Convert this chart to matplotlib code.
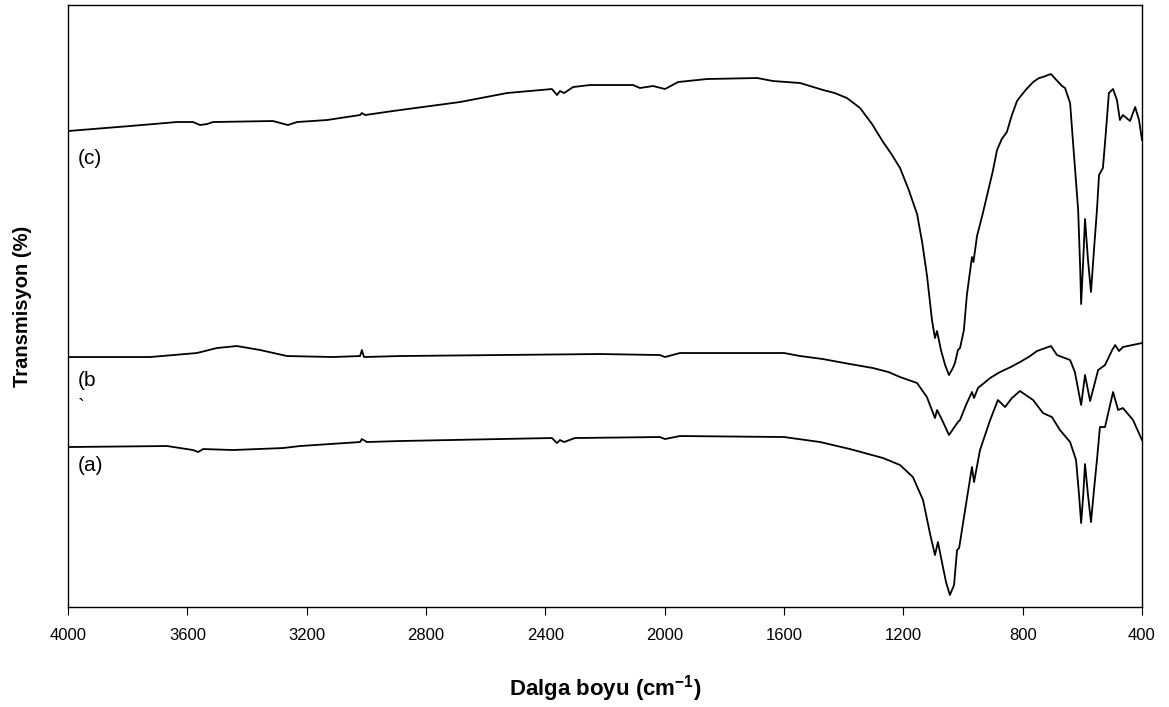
import matplotlib
matplotlib.use("Agg")
import matplotlib.pyplot as plt
import numpy as np

plt.rcParams['font.family'] = ['Liberation Sans', 'DejaVu Sans']
plt.rcParams['mathtext.fontset'] = 'custom'
plt.rcParams['mathtext.bf'] = 'Liberation Sans:bold'
plt.rcParams['mathtext.rm'] = 'Liberation Sans'

# wavenumber (cm-1) and offset transmission (arbitrary units)
wn_c = [4000, 3792, 3635, 3581, 3558, 3534, 3514, 3313, 3263, 3232, 3132, 3021, 3015, 3004,
        2911, 2686, 2528, 2378, 2361, 2351, 2337, 2307, 2250, 2106, 2083, 2039, 1999, 1955,
        1858, 1690, 1637, 1546, 1469, 1430, 1389, 1345, 1305, 1268, 1240, 1211, 1183, 1154,
        1137, 1121, 1104, 1094, 1087, 1074, 1060, 1047, 1034, 1027, 1017, 1010, 997, 987,
        970, 965, 953, 935, 919, 900, 886, 870, 853, 836, 819, 809, 790, 765, 745, 732, 715,
        705, 690, 668, 658, 641, 631, 614, 607, 604, 597, 591, 581, 571, 561, 551, 544, 531,
        521, 511, 497, 484, 474, 464, 440, 423, 410, 400]
t_c = [476, 481, 485, 485, 482, 483, 485, 486, 482, 485, 487, 492, 494, 492,
       496, 505, 514, 518, 512, 516, 514, 520, 522, 522, 519, 521, 518, 525,
       528, 529, 526, 524, 517, 514, 509, 499, 483, 465, 453, 439, 418, 393,
       365, 332, 287, 269, 276, 257, 242, 232, 239, 244, 257, 259, 277, 312,
       350, 345, 371, 392, 412, 436, 457, 468, 475, 492, 506, 510, 517, 525, 529, 530, 532,
       533, 528, 521, 519, 504, 464, 397, 337, 303, 347, 388, 347, 315, 357, 397, 432, 439,
       475, 514, 518, 507, 487, 492, 486, 500, 487, 467]

wn_b = [4000, 3725, 3568, 3501, 3434, 3356, 3266, 3112, 3021, 3015, 3008, 2887, 2552, 2217,
        2016, 1999, 1949, 1600, 1546, 1470, 1379, 1302, 1250, 1211, 1154, 1121, 1094, 1087,
        1070, 1047, 1031, 1017, 1010, 990, 970, 963, 950, 909, 876, 840, 809, 780, 752, 705,
        685, 641, 625, 604, 591, 574, 547, 524, 500, 490, 477, 464, 400]
t_b = [250, 250, 254, 259, 261, 257, 251, 250, 251, 257, 250, 251, 252, 253,
       252, 250, 254, 254, 251, 248, 243, 239, 235, 230, 224, 210, 189, 197,
       187, 172, 179, 185, 187, 202, 215, 209, 219, 229, 235, 240, 245, 250, 256, 261,
       252, 247, 235, 202, 232, 206, 237, 242, 257, 262, 256, 260, 264]

wn_a = [4000, 3668, 3581, 3564, 3547, 3447, 3279, 3222, 3021, 3015, 2998, 2887, 2552, 2378,
        2361, 2351, 2337, 2301, 2016, 1999, 1949, 1600, 1479, 1379, 1268, 1211, 1168, 1134,
        1111, 1094, 1084, 1070, 1057, 1044, 1030, 1020, 1013, 993, 970, 963, 943, 909, 883,
        859, 836, 809, 765, 732, 702, 675, 641, 621, 611, 604, 597, 591, 581, 571, 561, 551,
        541, 524, 497, 480, 464, 430, 400]
t_a = [160, 161, 157, 155, 158, 157, 159, 161, 165, 168, 165, 166, 168, 169,
       164, 167, 165, 169, 170, 168, 171, 170, 165, 158, 149, 142, 130, 107,
       74, 52, 65, 44, 25, 12, 22, 57, 59, 97, 140, 125, 157, 187, 207,
       200, 209, 216, 207, 194, 190, 177, 165, 147, 112, 84, 112, 143, 112, 85, 117, 147,
       180, 180, 215, 197, 199, 187, 167]

curve_labels = ["(c)", "(b", "`", "(a)"]
label_t = [449, 227, 200, 142]

fig = plt.figure(figsize=(11.69, 7.07), dpi=100)
ax = fig.add_axes([0.0582, 0.1414, 0.9187, 0.8515])

for wn, t in [(wn_a, t_a), (wn_b, t_b), (wn_c, t_c)]:
    ax.plot(wn, t, color='black', lw=1.3)

for lab, y in zip(curve_labels, label_t):
    ax.text(3968, y, lab, fontsize=15, ha='left', va='center')

ax.set_xlim(4000, 400)
ax.set_ylim(0, 602)
ax.set_xticks(np.arange(4000, 399, -400))
ax.tick_params(axis='x', direction='out', length=6, labelsize=12, pad=9)
ax.set_yticks([])
for s in ax.spines.values():
    s.set_linewidth(1.0)

ax.set_xlabel("Dalga boyu (cm$^{\\mathbf{-1}}$)", fontsize=16, fontweight='bold', labelpad=22)
ax.set_ylabel("Transmisyon (%)", fontsize=14.5, fontweight='bold', labelpad=26)

fig.savefig("out.png", dpi=100)
